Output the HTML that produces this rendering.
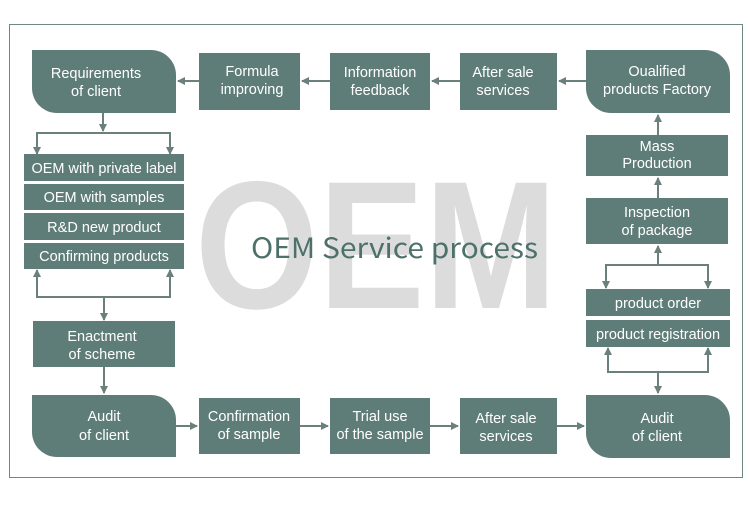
<!DOCTYPE html>
<html><head><meta charset="utf-8"><style>
html,body{margin:0;padding:0;background:#fff;}
</style></head><body>
<svg width="750" height="500" xmlns="http://www.w3.org/2000/svg" font-family="Liberation Sans, sans-serif">
<defs>
<marker id="a" markerWidth="8" markerHeight="8" refX="7" refY="4" orient="auto" markerUnits="userSpaceOnUse"><path d="M0,0 L8,4 L0,8 Z" fill="#6b7f7c"/></marker>
</defs>
<rect x="0" y="0" width="750" height="500" fill="#fff"/>
<rect x="9.5" y="24.5" width="733" height="453" fill="#fff" stroke="#6f8884" stroke-width="1"/>
<text x="195" y="308" font-size="182" font-weight="bold" fill="#dcdcdc" textLength="362" lengthAdjust="spacingAndGlyphs">OEM</text>
<text x="251" y="258" font-size="28" fill="#4c706a" font-family="Noto Sans CJK SC, sans-serif" textLength="287" lengthAdjust="spacingAndGlyphs">OEM Service process</text>

<g fill="#5f7d78">
<path d="M32,50 H151 A25,25 0 0 1 176,75 V113 H57 A25,25 0 0 1 32,88 Z"/>
<rect x="199" y="53" width="101" height="57"/>
<rect x="330" y="53" width="100" height="57"/>
<rect x="460" y="53" width="97" height="57"/>
<path d="M586,50 H705 A25,25 0 0 1 730,75 V113 H611 A25,25 0 0 1 586,88 Z"/>
<rect x="24" y="154" width="160" height="27"/>
<rect x="24" y="184" width="160" height="26"/>
<rect x="24" y="213" width="160" height="27"/>
<rect x="24" y="243" width="160" height="26"/>
<rect x="33" y="321" width="142" height="46"/>
<path d="M32,395 H151 A25,25 0 0 1 176,420 V457 H57 A25,25 0 0 1 32,432 Z"/>
<rect x="199" y="398" width="101" height="56"/>
<rect x="330" y="398" width="100" height="56"/>
<rect x="460" y="398" width="97" height="56"/>
<path d="M586,395 H705 A25,25 0 0 1 730,420 V458 H611 A25,25 0 0 1 586,433 Z"/>
<rect x="586" y="135" width="142" height="41"/>
<rect x="586" y="198" width="142" height="46"/>
<rect x="586" y="289" width="144" height="27"/>
<rect x="586" y="320" width="144" height="27"/>
</g>

<g fill="#fff" font-size="14.5" text-anchor="middle">
<text x="96" y="78">Requirements</text><text x="96" y="96">of client</text>
<text x="252" y="76">Formula</text><text x="252" y="94">improving</text>
<text x="380" y="77">Information</text><text x="380" y="95">feedback</text>
<text x="503" y="77">After sale</text><text x="503" y="95">services</text>
<text x="657" y="76">Oualified</text><text x="657" y="94">products Factory</text>
<text x="104" y="173">OEM with private label</text>
<text x="104" y="202">OEM with samples</text>
<text x="104" y="232">R&amp;D new product</text>
<text x="104" y="261">Confirming products</text>
<text x="102" y="341">Enactment</text><text x="102" y="359">of scheme</text>
<text x="104" y="421">Audit</text><text x="104" y="440">of  client</text>
<text x="249" y="421">Confirmation</text><text x="249" y="439">of sample</text>
<text x="380" y="421">Trial use</text><text x="380" y="439">of the sample</text>
<text x="506" y="423">After sale</text><text x="506" y="441">services</text>
<text x="657" y="423">Audit</text><text x="657" y="441">of client</text>
<text x="657" y="151">Mass</text><text x="657" y="168">Production</text>
<text x="657" y="217">Inspection</text><text x="657" y="235">of package</text>
<text x="658" y="308">product order</text>
<text x="658" y="339">product registration</text>
</g>

<g stroke="#6b7f7c" stroke-width="2" fill="none">
<line x1="199" y1="81" x2="178" y2="81" marker-end="url(#a)"/>
<line x1="330" y1="81" x2="302" y2="81" marker-end="url(#a)"/>
<line x1="460" y1="81" x2="432" y2="81" marker-end="url(#a)"/>
<line x1="586" y1="81" x2="559" y2="81" marker-end="url(#a)"/>
<line x1="103" y1="113" x2="103" y2="131" marker-end="url(#a)"/>
<polyline points="37,153 37,133 170,133 170,153"/>
<line x1="37" y1="145" x2="37" y2="154" marker-end="url(#a)"/>
<line x1="170" y1="145" x2="170" y2="154" marker-end="url(#a)"/>
<polyline points="37,275 37,297 170,297 170,275"/>
<line x1="37" y1="280" x2="37" y2="270" marker-end="url(#a)"/>
<line x1="170" y1="280" x2="170" y2="270" marker-end="url(#a)"/>
<line x1="104" y1="297" x2="104" y2="320" marker-end="url(#a)"/>
<line x1="104" y1="367" x2="104" y2="393" marker-end="url(#a)"/>
<line x1="176" y1="426" x2="197" y2="426" marker-end="url(#a)"/>
<line x1="300" y1="426" x2="328" y2="426" marker-end="url(#a)"/>
<line x1="430" y1="426" x2="458" y2="426" marker-end="url(#a)"/>
<line x1="557" y1="426" x2="584" y2="426" marker-end="url(#a)"/>
<line x1="658" y1="135" x2="658" y2="115" marker-end="url(#a)"/>
<line x1="658" y1="198" x2="658" y2="178" marker-end="url(#a)"/>
<line x1="658" y1="265" x2="658" y2="246" marker-end="url(#a)"/>
<polyline points="606,283 606,265 708,265 708,283"/>
<line x1="606" y1="280" x2="606" y2="288" marker-end="url(#a)"/>
<line x1="708" y1="280" x2="708" y2="288" marker-end="url(#a)"/>
<polyline points="608,352 608,372 708,372 708,352"/>
<line x1="608" y1="356" x2="608" y2="348" marker-end="url(#a)"/>
<line x1="708" y1="356" x2="708" y2="348" marker-end="url(#a)"/>
<line x1="658" y1="372" x2="658" y2="393" marker-end="url(#a)"/>
</g>
</svg>
</body></html>
